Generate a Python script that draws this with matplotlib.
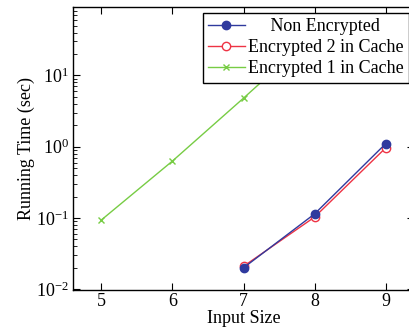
import matplotlib
matplotlib.use("Agg")
import matplotlib.pyplot as plt
from matplotlib.ticker import LogLocator

plt.rcParams['font.family'] = ['Liberation Serif', 'DejaVu Serif']
plt.rcParams['mathtext.fontset'] = 'stix'

x_non = [7, 8, 9]
y_non = [0.0200, 0.114, 1.10]
x_enc2 = [7, 8, 9]
y_enc2 = [0.0210, 0.103, 0.96]
x_enc1 = [5, 6, 7, 8]
y_enc1 = [0.094, 0.63, 4.8, 38.0]
xticks = [5, 6, 7, 8, 9]

W, H = 409, 328
fig = plt.figure(figsize=(W / 100, H / 100), dpi=100)
left, right, bottom, top = 73, 414, 290, 7
ax = fig.add_axes([left / W, 1 - bottom / H, (right - left) / W, (bottom - top) / H])

blue = '#2f3a9e'
red = '#ee3344'
green = '#77cc44'

ax.plot(x_non, y_non, color=blue, lw=1.0, marker='o', ms=6, mfc=blue, mec=blue,
        label='     Non Encrypted', zorder=3)
ax.plot(x_enc2, y_enc2, color=red, lw=1.0, marker='o', ms=6, mfc='white', mec=red,
        label='Encrypted 2 in Cache', zorder=2)
ax.plot(x_enc1, y_enc1, color=green, lw=1.0, marker='x', ms=5, mec=green,
        label='Encrypted 1 in Cache', zorder=2)

ax.set_yscale('log')
ax.set_xlim(4.6, 9.4)
ax.set_ylim(10 ** -2.01, 10 ** 1.96)
ax.set_xticks(xticks)
ax.set_xticklabels([str(v) for v in xticks])
ax.yaxis.set_major_locator(LogLocator(base=10, numticks=10))
ax.yaxis.set_minor_locator(LogLocator(base=10, subs=range(2, 10), numticks=20))

ax.tick_params(which='both', direction='in', top=True, right=True, labelsize=13, colors='black')
ax.tick_params(which='major', length=5, width=0.8)
ax.tick_params(which='minor', length=3, width=0.6)
ax.tick_params(axis='x', which='major', pad=2)
ax.tick_params(axis='y', which='major', pad=3)
ax.tick_params(axis='x', which='minor', top=False, bottom=False)
for s in ax.spines.values():
    s.set_linewidth(1.0)

ax.set_xlabel('Input Size', fontsize=13, labelpad=0)
ax.set_ylabel('Running Time (sec)', fontsize=13, labelpad=1)

leg = ax.legend(loc='upper left', bbox_to_anchor=((203 - left) / (right - left), 1 - (13 - top) / (bottom - top)),
                fontsize=13, frameon=True, fancybox=False, edgecolor='black', framealpha=1,
                handlelength=2.0, handletextpad=0.2, borderpad=0.3, labelspacing=0.22, borderaxespad=0)
leg.get_frame().set_linewidth(1.0)

fig.savefig('out.png', dpi=100)
